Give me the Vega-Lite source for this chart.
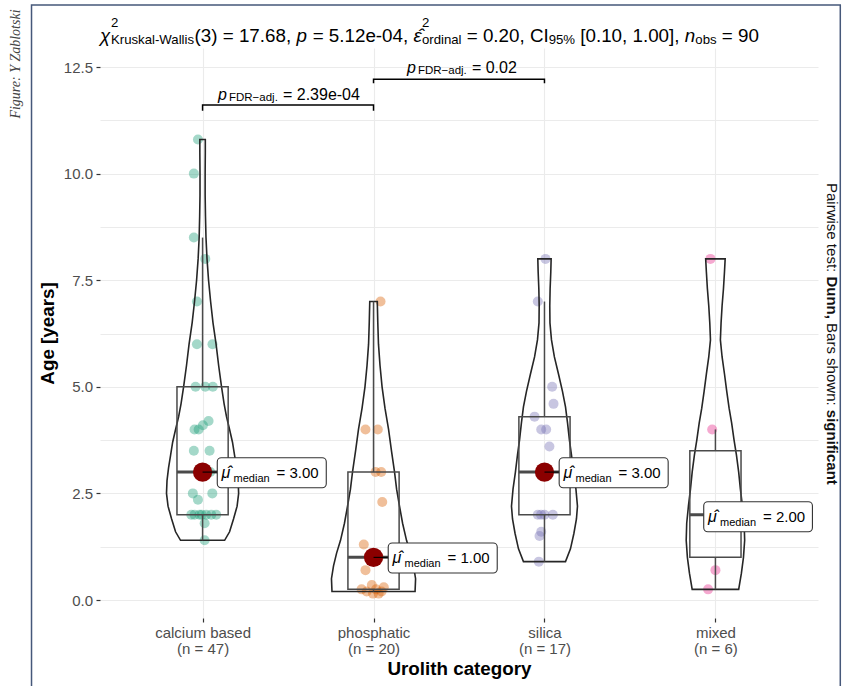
{
  "$schema": "https://vega.github.io/schema/vega-lite/v6.json",
  "width": 718,
  "height": 570,
  "autosize": {"type": "none"},
  "padding": {"left": 100, "top": 48, "right": 24, "bottom": 68},
  "background": "white",
  "config": {"font": "Liberation Sans", "view": {"stroke": null}},
  "data": {"values": [{}]},
  "datasets": {
    "points": [
      {"g": "calcium based", "x": 0.973, "age": 10.8},
      {"g": "calcium based", "x": 0.949, "age": 10.0},
      {"g": "calcium based", "x": 0.949, "age": 8.5},
      {"g": "calcium based", "x": 1.016, "age": 8.0},
      {"g": "calcium based", "x": 0.967, "age": 7.0},
      {"g": "calcium based", "x": 0.967, "age": 6.0},
      {"g": "calcium based", "x": 1.058, "age": 6.0},
      {"g": "calcium based", "x": 0.959, "age": 5.0},
      {"g": "calcium based", "x": 1.016, "age": 5.0},
      {"g": "calcium based", "x": 1.06, "age": 5.0},
      {"g": "calcium based", "x": 1.035, "age": 4.2},
      {"g": "calcium based", "x": 1.002, "age": 4.1},
      {"g": "calcium based", "x": 0.953, "age": 4.0},
      {"g": "calcium based", "x": 0.977, "age": 4.0},
      {"g": "calcium based", "x": 0.949, "age": 3.5},
      {"g": "calcium based", "x": 1.041, "age": 3.5},
      {"g": "calcium based", "x": 0.975, "age": 3.0},
      {"g": "calcium based", "x": 1.0, "age": 3.0},
      {"g": "calcium based", "x": 1.03, "age": 3.0},
      {"g": "calcium based", "x": 1.045, "age": 3.0},
      {"g": "calcium based", "x": 0.943, "age": 2.5},
      {"g": "calcium based", "x": 0.973, "age": 2.35},
      {"g": "calcium based", "x": 1.057, "age": 2.5},
      {"g": "calcium based", "x": 0.934, "age": 2.0},
      {"g": "calcium based", "x": 0.953, "age": 2.0},
      {"g": "calcium based", "x": 0.982, "age": 2.0},
      {"g": "calcium based", "x": 0.995, "age": 2.0},
      {"g": "calcium based", "x": 1.021, "age": 2.0},
      {"g": "calcium based", "x": 1.051, "age": 2.0},
      {"g": "calcium based", "x": 1.08, "age": 2.0},
      {"g": "calcium based", "x": 1.012, "age": 1.8},
      {"g": "calcium based", "x": 1.012, "age": 1.4},
      {"g": "phosphatic", "x": 2.041, "age": 7.0},
      {"g": "phosphatic", "x": 1.953, "age": 4.0},
      {"g": "phosphatic", "x": 2.025, "age": 4.0},
      {"g": "phosphatic", "x": 2.012, "age": 3.0},
      {"g": "phosphatic", "x": 2.045, "age": 3.0},
      {"g": "phosphatic", "x": 2.051, "age": 2.3},
      {"g": "phosphatic", "x": 1.943, "age": 1.3},
      {"g": "phosphatic", "x": 1.98, "age": 1.0},
      {"g": "phosphatic", "x": 2.03, "age": 1.0},
      {"g": "phosphatic", "x": 1.953, "age": 0.7},
      {"g": "phosphatic", "x": 1.93, "age": 0.25},
      {"g": "phosphatic", "x": 1.99, "age": 0.35},
      {"g": "phosphatic", "x": 2.047, "age": 0.2},
      {"g": "phosphatic", "x": 1.997, "age": 0.15},
      {"g": "phosphatic", "x": 2.03, "age": 0.15},
      {"g": "phosphatic", "x": 2.06, "age": 0.3},
      {"g": "phosphatic", "x": 1.96, "age": 0.2},
      {"g": "phosphatic", "x": 2.015, "age": 0.25},
      {"g": "silica", "x": 3.006, "age": 8.0},
      {"g": "silica", "x": 2.961, "age": 7.0},
      {"g": "silica", "x": 3.045, "age": 5.0},
      {"g": "silica", "x": 3.053, "age": 4.6},
      {"g": "silica", "x": 2.942, "age": 4.3},
      {"g": "silica", "x": 2.981, "age": 4.0},
      {"g": "silica", "x": 3.01, "age": 4.0},
      {"g": "silica", "x": 3.029, "age": 3.6},
      {"g": "silica", "x": 2.99, "age": 3.0},
      {"g": "silica", "x": 3.02, "age": 3.0},
      {"g": "silica", "x": 2.961, "age": 2.0},
      {"g": "silica", "x": 2.98, "age": 2.0},
      {"g": "silica", "x": 3.0, "age": 2.0},
      {"g": "silica", "x": 3.049, "age": 2.0},
      {"g": "silica", "x": 2.981, "age": 1.6},
      {"g": "silica", "x": 2.971, "age": 1.5},
      {"g": "silica", "x": 2.967, "age": 0.9},
      {"g": "mixed", "x": 3.971, "age": 8.0},
      {"g": "mixed", "x": 3.981, "age": 4.0},
      {"g": "mixed", "x": 4.01, "age": 2.0},
      {"g": "mixed", "x": 4.03, "age": 2.0},
      {"g": "mixed", "x": 4.0, "age": 0.7},
      {"g": "mixed", "x": 3.957, "age": 0.25}
    ],
    "violins": [
      {"g": "calcium based", "age": 1.4, "lo": 0.871, "hi": 1.129},
      {"g": "calcium based", "age": 1.6, "lo": 0.842, "hi": 1.158},
      {"g": "calcium based", "age": 1.9, "lo": 0.819, "hi": 1.181},
      {"g": "calcium based", "age": 2.2, "lo": 0.798, "hi": 1.202},
      {"g": "calcium based", "age": 2.5, "lo": 0.789, "hi": 1.211},
      {"g": "calcium based", "age": 2.8, "lo": 0.792, "hi": 1.208},
      {"g": "calcium based", "age": 3.1, "lo": 0.801, "hi": 1.199},
      {"g": "calcium based", "age": 3.4, "lo": 0.813, "hi": 1.187},
      {"g": "calcium based", "age": 3.7, "lo": 0.825, "hi": 1.175},
      {"g": "calcium based", "age": 4.0, "lo": 0.842, "hi": 1.158},
      {"g": "calcium based", "age": 4.3, "lo": 0.86, "hi": 1.14},
      {"g": "calcium based", "age": 4.6, "lo": 0.874, "hi": 1.126},
      {"g": "calcium based", "age": 5.0, "lo": 0.889, "hi": 1.111},
      {"g": "calcium based", "age": 5.5, "lo": 0.906, "hi": 1.094},
      {"g": "calcium based", "age": 6.0, "lo": 0.921, "hi": 1.079},
      {"g": "calcium based", "age": 6.5, "lo": 0.939, "hi": 1.061},
      {"g": "calcium based", "age": 7.0, "lo": 0.953, "hi": 1.047},
      {"g": "calcium based", "age": 7.5, "lo": 0.965, "hi": 1.035},
      {"g": "calcium based", "age": 8.0, "lo": 0.974, "hi": 1.026},
      {"g": "calcium based", "age": 8.5, "lo": 0.98, "hi": 1.02},
      {"g": "calcium based", "age": 9.0, "lo": 0.983, "hi": 1.017},
      {"g": "calcium based", "age": 9.5, "lo": 0.985, "hi": 1.015},
      {"g": "calcium based", "age": 10.0, "lo": 0.985, "hi": 1.015},
      {"g": "calcium based", "age": 10.5, "lo": 0.984, "hi": 1.016},
      {"g": "calcium based", "age": 10.8, "lo": 0.984, "hi": 1.016},
      {"g": "phosphatic", "age": 0.2, "lo": 1.757, "hi": 2.243},
      {"g": "phosphatic", "age": 0.5, "lo": 1.754, "hi": 2.246},
      {"g": "phosphatic", "age": 0.8, "lo": 1.766, "hi": 2.234},
      {"g": "phosphatic", "age": 1.1, "lo": 1.784, "hi": 2.216},
      {"g": "phosphatic", "age": 1.4, "lo": 1.807, "hi": 2.193},
      {"g": "phosphatic", "age": 1.8, "lo": 1.83, "hi": 2.17},
      {"g": "phosphatic", "age": 2.2, "lo": 1.848, "hi": 2.152},
      {"g": "phosphatic", "age": 2.6, "lo": 1.865, "hi": 2.135},
      {"g": "phosphatic", "age": 3.0, "lo": 1.877, "hi": 2.123},
      {"g": "phosphatic", "age": 3.5, "lo": 1.895, "hi": 2.105},
      {"g": "phosphatic", "age": 4.0, "lo": 1.912, "hi": 2.088},
      {"g": "phosphatic", "age": 4.5, "lo": 1.933, "hi": 2.067},
      {"g": "phosphatic", "age": 5.0, "lo": 1.95, "hi": 2.05},
      {"g": "phosphatic", "age": 5.5, "lo": 1.962, "hi": 2.038},
      {"g": "phosphatic", "age": 6.0, "lo": 1.971, "hi": 2.029},
      {"g": "phosphatic", "age": 6.5, "lo": 1.975, "hi": 2.025},
      {"g": "phosphatic", "age": 7.0, "lo": 1.978, "hi": 2.022},
      {"g": "silica", "age": 0.9, "lo": 2.877, "hi": 3.123},
      {"g": "silica", "age": 1.2, "lo": 2.848, "hi": 3.152},
      {"g": "silica", "age": 1.56, "lo": 2.828, "hi": 3.172},
      {"g": "silica", "age": 1.9, "lo": 2.813, "hi": 3.187},
      {"g": "silica", "age": 2.2, "lo": 2.807, "hi": 3.193},
      {"g": "silica", "age": 2.6, "lo": 2.816, "hi": 3.184},
      {"g": "silica", "age": 3.0, "lo": 2.83, "hi": 3.17},
      {"g": "silica", "age": 3.4, "lo": 2.842, "hi": 3.158},
      {"g": "silica", "age": 3.75, "lo": 2.854, "hi": 3.146},
      {"g": "silica", "age": 4.15, "lo": 2.865, "hi": 3.135},
      {"g": "silica", "age": 4.53, "lo": 2.877, "hi": 3.123},
      {"g": "silica", "age": 4.9, "lo": 2.895, "hi": 3.105},
      {"g": "silica", "age": 5.3, "lo": 2.918, "hi": 3.082},
      {"g": "silica", "age": 5.7, "lo": 2.942, "hi": 3.058},
      {"g": "silica", "age": 6.1, "lo": 2.959, "hi": 3.041},
      {"g": "silica", "age": 6.5, "lo": 2.968, "hi": 3.032},
      {"g": "silica", "age": 6.9, "lo": 2.969, "hi": 3.031},
      {"g": "silica", "age": 7.3, "lo": 2.967, "hi": 3.033},
      {"g": "silica", "age": 7.7, "lo": 2.963, "hi": 3.037},
      {"g": "silica", "age": 8.0, "lo": 2.961, "hi": 3.039},
      {"g": "mixed", "age": 0.25, "lo": 3.864, "hi": 4.136},
      {"g": "mixed", "age": 0.63, "lo": 3.848, "hi": 4.152},
      {"g": "mixed", "age": 1.0, "lo": 3.836, "hi": 4.164},
      {"g": "mixed", "age": 1.4, "lo": 3.829, "hi": 4.171},
      {"g": "mixed", "age": 1.8, "lo": 3.832, "hi": 4.168},
      {"g": "mixed", "age": 2.2, "lo": 3.842, "hi": 4.158},
      {"g": "mixed", "age": 2.6, "lo": 3.854, "hi": 4.146},
      {"g": "mixed", "age": 3.0, "lo": 3.864, "hi": 4.136},
      {"g": "mixed", "age": 3.4, "lo": 3.877, "hi": 4.123},
      {"g": "mixed", "age": 3.75, "lo": 3.891, "hi": 4.109},
      {"g": "mixed", "age": 4.15, "lo": 3.905, "hi": 4.095},
      {"g": "mixed", "age": 4.5, "lo": 3.92, "hi": 4.08},
      {"g": "mixed", "age": 4.9, "lo": 3.934, "hi": 4.066},
      {"g": "mixed", "age": 5.3, "lo": 3.947, "hi": 4.053},
      {"g": "mixed", "age": 5.7, "lo": 3.961, "hi": 4.039},
      {"g": "mixed", "age": 6.1, "lo": 3.971, "hi": 4.029},
      {"g": "mixed", "age": 6.5, "lo": 3.967, "hi": 4.033},
      {"g": "mixed", "age": 6.9, "lo": 3.961, "hi": 4.039},
      {"g": "mixed", "age": 7.3, "lo": 3.953, "hi": 4.047},
      {"g": "mixed", "age": 7.7, "lo": 3.947, "hi": 4.053},
      {"g": "mixed", "age": 8.0, "lo": 3.943, "hi": 4.057}
    ],
    "stats": [
      {"g": "calcium based", "c": 1, "lo": 1.4, "q1": 2.0, "med": 3.0, "q3": 5.0, "hi": 8.5, "lab": "= 3.00"},
      {"g": "phosphatic", "c": 2, "lo": 0.2, "q1": 0.25, "med": 1.0, "q3": 3.0, "hi": 7.0, "lab": "= 1.00"},
      {"g": "silica", "c": 3, "lo": 0.9, "q1": 2.0, "med": 3.0, "q3": 4.3, "hi": 7.0, "lab": "= 3.00"},
      {"g": "mixed", "c": 4, "lo": 0.25, "q1": 1.0, "med": 2.0, "q3": 3.5, "hi": 4.0, "lab": "= 2.00"}
    ],
    "brackets": [
      {"pair": "A", "bx": 1, "by": 11.475, "ord": 0},
      {"pair": "A", "bx": 1, "by": 11.61, "ord": 1},
      {"pair": "A", "bx": 2, "by": 11.61, "ord": 2},
      {"pair": "A", "bx": 2, "by": 11.475, "ord": 3},
      {"pair": "B", "bx": 2, "by": 12.118, "ord": 0},
      {"pair": "B", "bx": 2, "by": 12.211, "ord": 1},
      {"pair": "B", "bx": 3, "by": 12.211, "ord": 2},
      {"pair": "B", "bx": 3, "by": 12.118, "ord": 3}
    ]
  },
  "layer": [
    {
      "data": {"name": "points"},
      "mark": {"type": "circle", "size": 100, "opacity": 0.4},
      "encoding": {
        "x": {
          "field": "x", "type": "quantitative",
          "scale": {"domain": [0.4, 4.6], "nice": false, "zero": false},
          "axis": {
            "values": [1, 2, 3, 4],
            "labelExpr": "[['calcium based','(n = 47)'],['phosphatic','(n = 20)'],['silica','(n = 17)'],['mixed','(n = 6)']][datum.value - 1]",
            "labelFont": "Liberation Sans", "labelFontSize": 15, "labelColor": "#4D4D4D",
            "labelLineHeight": 16, "labelPadding": 3, "labelOverlap": false, "labelBound": false,
            "tickSize": 4, "tickColor": "#333333", "tickWidth": 1.2,
            "domain": false, "grid": true, "gridColor": "#EBEBEB", "gridWidth": 1.1,
            "title": "Urolith category", "titleFont": "Liberation Sans", "titleFontSize": 18.8,
            "titleFontWeight": "bold", "titleColor": "#000000", "titlePadding": 3
          }
        },
        "y": {
          "field": "age", "type": "quantitative",
          "scale": {"domain": [-0.422, 12.946], "nice": false, "zero": false},
          "axis": {
            "values": [0, 1.25, 2.5, 3.75, 5, 6.25, 7.5, 8.75, 10, 11.25, 12.5],
            "labelExpr": "datum.value % 2.5 == 0 ? format(datum.value, '.1f') : ''",
            "tickOpacity": {"condition": {"test": "datum.value % 2.5 != 0", "value": 0}, "value": 1},
            "labelFont": "Liberation Sans", "labelFontSize": 15, "labelColor": "#4D4D4D", "labelPadding": 3.5,
            "tickSize": 4, "tickColor": "#333333", "tickWidth": 1.2,
            "domain": false, "grid": true, "gridColor": "#EBEBEB", "gridWidth": 1.1,
            "title": "Age [years]", "titleFont": "Liberation Sans", "titleFontSize": 18.8,
            "titleFontWeight": "bold", "titleColor": "#000000", "titlePadding": 6
          }
        },
        "color": {
          "field": "g", "type": "nominal",
          "scale": {"domain": ["calcium based", "phosphatic", "silica", "mixed"], "range": ["#1B9E77", "#D95F02", "#7570B3", "#E7298A"]},
          "legend": null
        }
      }
    },
    {
      "mark": {"type": "rect", "fill": null, "fillOpacity": 0, "stroke": "#46587A", "strokeWidth": 1.5},
      "encoding": {
        "x": {"datum": -0.0006, "type": "quantitative"},
        "x2": {"datum": 4.7304},
        "y": {"datum": 13.954, "type": "quantitative"},
        "y2": {"datum": -2.4}
      }
    },
    {
      "data": {"name": "violins"},
      "mark": {"type": "area", "orient": "horizontal", "fill": "white", "fillOpacity": 0, "stroke": "#262626", "strokeWidth": 1.6},
      "encoding": {
        "y": {"field": "age", "type": "quantitative"},
        "x": {"field": "lo", "type": "quantitative"},
        "x2": {"field": "hi"},
        "detail": {"field": "g"}
      }
    },
    {
      "data": {"name": "stats"},
      "mark": {"type": "rect", "fill": "white", "fillOpacity": 0, "stroke": "#4A4A4A", "strokeWidth": 1.5, "xOffset": -25.6, "x2Offset": 25.6},
      "encoding": {
        "x": {"field": "c", "type": "quantitative"},
        "x2": {"field": "c"},
        "y": {"field": "q1", "type": "quantitative"},
        "y2": {"field": "q3"}
      }
    },
    {
      "data": {"name": "stats"},
      "mark": {"type": "rule", "stroke": "#4A4A4A", "strokeWidth": 1.5},
      "encoding": {
        "x": {"field": "c", "type": "quantitative"},
        "y": {"field": "q3", "type": "quantitative"},
        "y2": {"field": "hi"}
      }
    },
    {
      "data": {"name": "stats"},
      "mark": {"type": "rule", "stroke": "#4A4A4A", "strokeWidth": 1.5},
      "encoding": {
        "x": {"field": "c", "type": "quantitative"},
        "y": {"field": "lo", "type": "quantitative"},
        "y2": {"field": "q1"}
      }
    },
    {
      "data": {"name": "stats"},
      "mark": {"type": "rule", "stroke": "#4A4A4A", "strokeWidth": 3, "xOffset": -25.6, "x2Offset": 25.6},
      "encoding": {
        "x": {"field": "c", "type": "quantitative"},
        "x2": {"field": "c"},
        "y": {"field": "med", "type": "quantitative"}
      }
    },
    {
      "data": {"name": "stats"},
      "mark": {"type": "circle", "size": 370, "opacity": 1, "color": "#8B0000"},
      "encoding": {
        "x": {"field": "c", "type": "quantitative"},
        "y": {"field": "med", "type": "quantitative"}
      }
    },
    {
      "data": {"name": "stats"},
      "mark": {"type": "rule", "stroke": "#000000", "strokeWidth": 1.1, "x2Offset": {"expr": "datum.c == 4 ? 0 : 14.7"}},
      "encoding": {
        "x": {"field": "c", "type": "quantitative"},
        "x2": {"field": "c"},
        "y": {"field": "med", "type": "quantitative"}
      }
    },
    {
      "data": {"name": "stats"},
      "mark": {
        "type": "rect", "fill": "white", "stroke": "#333333", "strokeWidth": 1.1, "cornerRadius": 4,
        "xOffset": {"expr": "datum.c == 4 ? -11.7 : 14.7"},
        "x2Offset": {"expr": "datum.c == 4 ? 97 : 123.7"},
        "yOffset": {"expr": "datum.c == 4 ? -13 : -14.3"},
        "y2Offset": {"expr": "datum.c == 4 ? 17 : 15.6"}
      },
      "encoding": {
        "x": {"field": "c", "type": "quantitative"},
        "x2": {"field": "c"},
        "y": {"field": "med", "type": "quantitative"},
        "y2": {"field": "med"}
      }
    },
    {
      "data": {"name": "stats"},
      "mark": {
        "type": "text", "text": "μ̂", "align": "left", "baseline": "alphabetic", "fontSize": 16, "fontStyle": "italic", "color": "#000000",
        "dx": {"expr": "datum.c == 4 ? -7.4 : 19"}, "dy": {"expr": "datum.c == 4 ? 7.5 : 6"}
      },
      "encoding": {
        "x": {"field": "c", "type": "quantitative"},
        "y": {"field": "med", "type": "quantitative"}
      }
    },
    {
      "data": {"name": "stats"},
      "mark": {
        "type": "text", "text": "median", "align": "left", "baseline": "alphabetic", "fontSize": 11, "color": "#000000",
        "dx": {"expr": "datum.c == 4 ? 4.6 : 31"}, "dy": {"expr": "datum.c == 4 ? 11.5 : 10"}
      },
      "encoding": {
        "x": {"field": "c", "type": "quantitative"},
        "y": {"field": "med", "type": "quantitative"}
      }
    },
    {
      "data": {"name": "stats"},
      "mark": {
        "type": "text", "align": "left", "baseline": "alphabetic", "fontSize": 15, "color": "#000000",
        "dx": {"expr": "datum.c == 4 ? 47.6 : 74"}, "dy": {"expr": "datum.c == 4 ? 7.5 : 6"}
      },
      "encoding": {
        "x": {"field": "c", "type": "quantitative"},
        "y": {"field": "med", "type": "quantitative"},
        "text": {"field": "lab"}
      }
    },
    {
      "data": {"name": "brackets"},
      "mark": {"type": "line", "stroke": "#000000", "strokeWidth": 1.5},
      "encoding": {
        "x": {"field": "bx", "type": "quantitative"},
        "y": {"field": "by", "type": "quantitative"},
        "detail": {"field": "pair"},
        "order": {"field": "ord"}
      }
    },
    {"mark": {"type": "text", "text": "p", "align": "left", "fontSize": 16, "fontStyle": "italic", "color": "#000000"},
     "encoding": {"x": {"datum": 1.0901, "type": "quantitative"}, "y": {"datum": 11.84, "type": "quantitative"}}},
    {"mark": {"type": "text", "text": "FDR−adj.", "align": "left", "fontSize": 11.5, "color": "#000000"},
     "encoding": {"x": {"datum": 1.1544, "type": "quantitative"}, "y": {"datum": 11.765, "type": "quantitative"}}},
    {"mark": {"type": "text", "text": "= 2.39e-04", "align": "left", "fontSize": 16, "color": "#000000"},
     "encoding": {"x": {"datum": 1.4702, "type": "quantitative"}, "y": {"datum": 11.84, "type": "quantitative"}}},
    {"mark": {"type": "text", "text": "p", "align": "left", "fontSize": 16, "fontStyle": "italic", "color": "#000000"},
     "encoding": {"x": {"datum": 2.1953, "type": "quantitative"}, "y": {"datum": 12.47, "type": "quantitative"}}},
    {"mark": {"type": "text", "text": "FDR−adj.", "align": "left", "fontSize": 11.5, "color": "#000000"},
     "encoding": {"x": {"datum": 2.2596, "type": "quantitative"}, "y": {"datum": 12.395, "type": "quantitative"}}},
    {"mark": {"type": "text", "text": "= 0.02", "align": "left", "fontSize": 16, "color": "#000000"},
     "encoding": {"x": {"datum": 2.5754, "type": "quantitative"}, "y": {"datum": 12.47, "type": "quantitative"}}},
    {"mark": {"type": "text", "text": "χ", "align": "left", "fontSize": 18.8, "fontStyle": "italic", "color": "#000000"},
     "encoding": {"x": {"datum": 0.4, "type": "quantitative"}, "y": {"datum": 13.227, "type": "quantitative"}}},
    {"mark": {"type": "text", "text": "2", "align": "left", "fontSize": 13.2, "color": "#000000"},
     "encoding": {"x": {"datum": 0.4643, "type": "quantitative"}, "y": {"datum": 13.53, "type": "quantitative"}}},
    {"mark": {"type": "text", "text": "Kruskal-Wallis", "align": "left", "fontSize": 13.2, "color": "#000000"},
     "encoding": {"x": {"datum": 0.4643, "type": "quantitative"}, "y": {"datum": 13.14, "type": "quantitative"}}},
    {"mark": {"type": "text", "text": "(3) = 17.68,", "align": "left", "fontSize": 18.8, "color": "#000000"},
     "encoding": {"x": {"datum": 0.9532, "type": "quantitative"}, "y": {"datum": 13.227, "type": "quantitative"}}},
    {"mark": {"type": "text", "text": "p", "align": "left", "fontSize": 18.8, "fontStyle": "italic", "color": "#000000"},
     "encoding": {"x": {"datum": 1.5491, "type": "quantitative"}, "y": {"datum": 13.227, "type": "quantitative"}}},
    {"mark": {"type": "text", "text": "= 5.12e-04,", "align": "left", "fontSize": 18.8, "color": "#000000"},
     "encoding": {"x": {"datum": 1.6439, "type": "quantitative"}, "y": {"datum": 13.227, "type": "quantitative"}}},
    {"mark": {"type": "text", "text": "ε̂", "align": "left", "fontSize": 18.8, "fontStyle": "italic", "color": "#000000"},
     "encoding": {"x": {"datum": 2.2333, "type": "quantitative"}, "y": {"datum": 13.227, "type": "quantitative"}}},
    {"mark": {"type": "text", "text": "2", "align": "left", "fontSize": 13.2, "color": "#000000"},
     "encoding": {"x": {"datum": 2.283, "type": "quantitative"}, "y": {"datum": 13.53, "type": "quantitative"}}},
    {"mark": {"type": "text", "text": "ordinal", "align": "left", "fontSize": 13.2, "color": "#000000"},
     "encoding": {"x": {"datum": 2.283, "type": "quantitative"}, "y": {"datum": 13.14, "type": "quantitative"}}},
    {"mark": {"type": "text", "text": "= 0.20,", "align": "left", "fontSize": 18.8, "color": "#000000"},
     "encoding": {"x": {"datum": 2.545, "type": "quantitative"}, "y": {"datum": 13.227, "type": "quantitative"}}},
    {"mark": {"type": "text", "text": "CI", "align": "left", "fontSize": 18.8, "color": "#000000"},
     "encoding": {"x": {"datum": 2.9146, "type": "quantitative"}, "y": {"datum": 13.227, "type": "quantitative"}}},
    {"mark": {"type": "text", "text": "95%", "align": "left", "fontSize": 13.2, "color": "#000000"},
     "encoding": {"x": {"datum": 3.0246, "type": "quantitative"}, "y": {"datum": 13.14, "type": "quantitative"}}},
    {"mark": {"type": "text", "text": "[0.10, 1.00],", "align": "left", "fontSize": 18.8, "color": "#000000"},
     "encoding": {"x": {"datum": 3.2094, "type": "quantitative"}, "y": {"datum": 13.227, "type": "quantitative"}}},
    {"mark": {"type": "text", "text": "n", "align": "left", "fontSize": 18.8, "fontStyle": "italic", "color": "#000000"},
     "encoding": {"x": {"datum": 3.8211, "type": "quantitative"}, "y": {"datum": 13.227, "type": "quantitative"}}},
    {"mark": {"type": "text", "text": "obs", "align": "left", "fontSize": 13.2, "color": "#000000"},
     "encoding": {"x": {"datum": 3.8825, "type": "quantitative"}, "y": {"datum": 13.14, "type": "quantitative"}}},
    {"mark": {"type": "text", "text": "= 90", "align": "left", "fontSize": 18.8, "color": "#000000"},
     "encoding": {"x": {"datum": 4.0374, "type": "quantitative"}, "y": {"datum": 13.227, "type": "quantitative"}}},
    {"mark": {"type": "text", "text": "Pairwise test:", "align": "left", "baseline": "middle", "angle": 90, "fontSize": 15, "color": "#111111"},
     "encoding": {"x": {"datum": 4.6836, "type": "quantitative"}, "y": {"datum": 9.7795, "type": "quantitative"}}},
    {"mark": {"type": "text", "text": "Dunn,", "align": "left", "baseline": "middle", "angle": 90, "fontSize": 15, "fontWeight": "bold", "color": "#111111"},
     "encoding": {"x": {"datum": 4.6836, "type": "quantitative"}, "y": {"datum": 7.589, "type": "quantitative"}}},
    {"mark": {"type": "text", "text": "Bars shown:", "align": "left", "baseline": "middle", "angle": 90, "fontSize": 15, "color": "#111111"},
     "encoding": {"x": {"datum": 4.6836, "type": "quantitative"}, "y": {"datum": 6.494, "type": "quantitative"}}},
    {"mark": {"type": "text", "text": "significant", "align": "left", "baseline": "middle", "angle": 90, "fontSize": 15, "fontWeight": "bold", "color": "#111111"},
     "encoding": {"x": {"datum": 4.6836, "type": "quantitative"}, "y": {"datum": 4.461, "type": "quantitative"}}},
    {"mark": {"type": "text", "text": "Figure: Y Zablotski", "align": "center", "baseline": "middle", "angle": 270, "fontSize": 14, "font": "Liberation Serif", "fontStyle": "italic", "color": "#444444"},
     "encoding": {"x": {"datum": -0.0942, "type": "quantitative"}, "y": {"datum": 12.57, "type": "quantitative"}}}
  ]
}
